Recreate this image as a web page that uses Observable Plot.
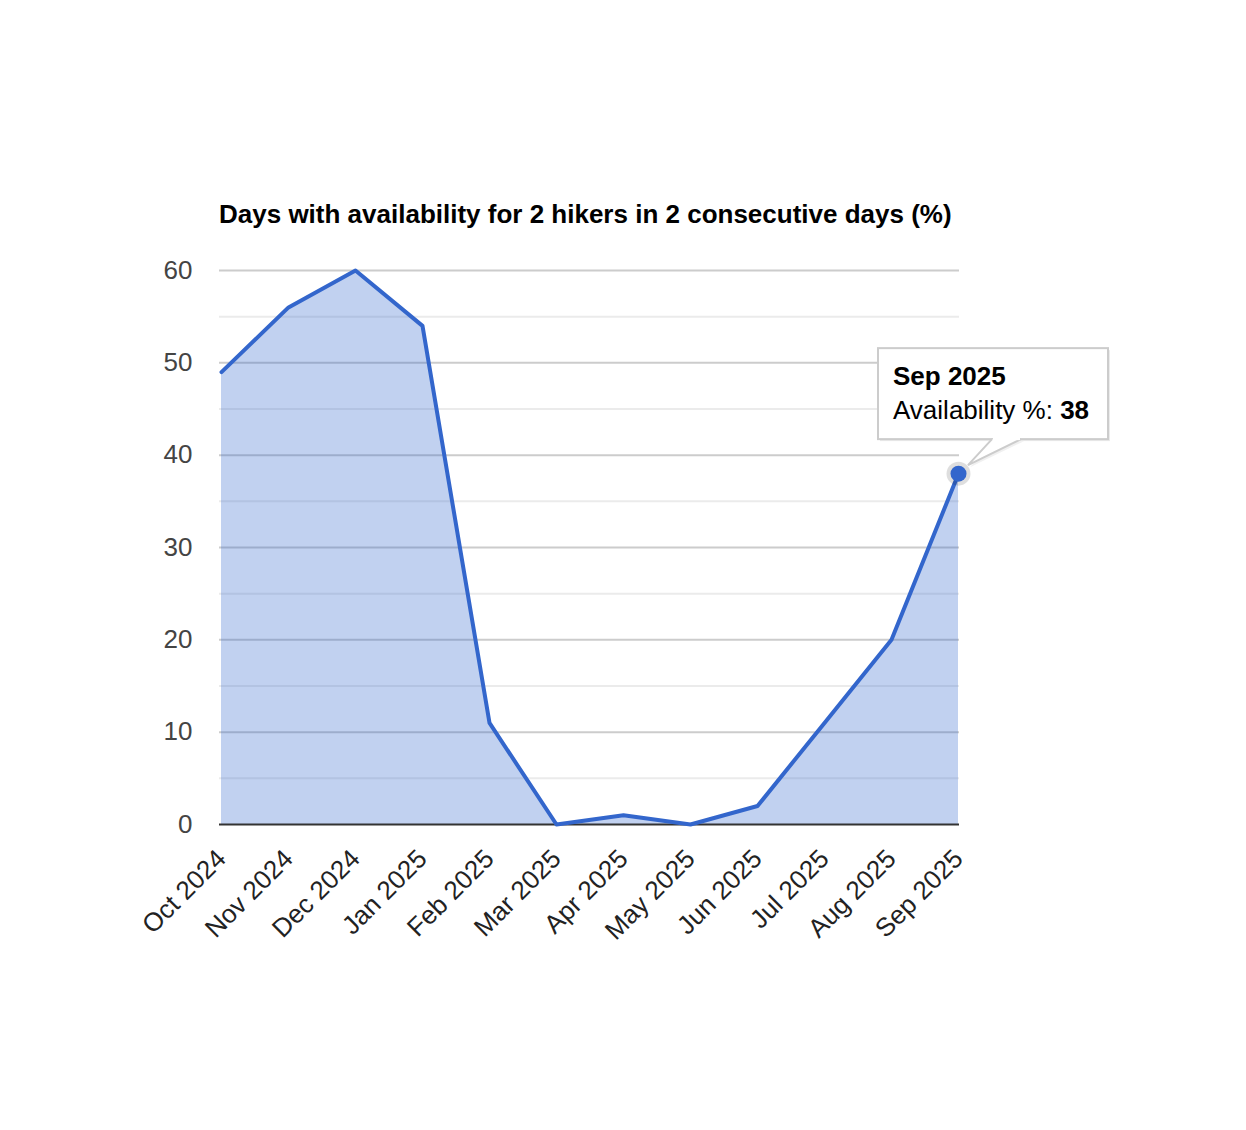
<!DOCTYPE html>
<html><head><meta charset="utf-8">
<script src="https://cdn.jsdelivr.net/npm/d3@7"></script>
<script src="https://cdn.jsdelivr.net/npm/@observablehq/plot@0.6"></script>
<style>
html,body{margin:0;padding:0;background:#fff;}
#wrap{position:relative;width:1246px;height:1130px;font-family:"Liberation Sans",Arial,Helvetica,sans-serif;}
#title{position:absolute;left:219px;top:201px;font-size:26px;line-height:26px;font-weight:bold;color:#000;white-space:nowrap;}
#chart{position:absolute;left:0;top:0;}
</style></head><body>
<div id="wrap"><div id="chart"></div><div id="title">Days with availability for 2 hikers in 2 consecutive days (%)</div></div>
<script>
const months = ["Oct 2024","Nov 2024","Dec 2024","Jan 2025","Feb 2025","Mar 2025","Apr 2025","May 2025","Jun 2025","Jul 2025","Aug 2025","Sep 2025"];
const availability = [49,56,60,54,11,0,1,0,2,11,20,38];
const majorTicks = [0,10,20,30,40,50,60];
const minorTicks = [5,15,25,35,45,55];
const tooltipMonth = "Sep 2025";
const tooltipLabel = "Availability %: ";

const font = '"Liberation Sans",Arial,Helvetica,sans-serif';
const data = months.map((m,i)=>({month:m, value:availability[i]}));
const highlight = data.filter(d=>d.month===tooltipMonth);

const plot = Plot.plot({
  width:1246, height:1130,
  marginTop:270, marginBottom:306, marginLeft:219, marginRight:287,
  style:{fontFamily:font, fontSize:"26px", background:"#fff", overflow:"visible"},
  x:{type:"point", domain:months, padding:0},
  y:{domain:[0,60]},
  marks:[
    Plot.ruleY(minorTicks,{stroke:"#ebebeb", strokeWidth:2}),
    Plot.ruleY(majorTicks.filter(t=>t>0),{stroke:"#cccccc", strokeWidth:2}),
    Plot.areaY(data,{x:"month", y:"value", fill:"#3366cc", fillOpacity:0.3}),
    Plot.ruleY([0],{stroke:"#333333", strokeWidth:2}),
    Plot.lineY(data,{x:"month", y:"value", stroke:"#3366cc", strokeWidth:4, strokeLinejoin:"round"}),
    Plot.axisY({ticks:majorTicks, tickSize:0, tickPadding:27, label:null, color:"#444444", fontSize:26}),
    Plot.axisX({tickSize:0, tickRotate:-45, tickPadding:30, label:null, color:"#222222", fontSize:26}),
    Plot.dot(highlight,{x:"month", y:"value", r:12, fill:"#000", fillOpacity:0.13}),
    Plot.dot(highlight,{x:"month", y:"value", r:8, fill:"#3366cc"})
  ]
});
document.getElementById("chart").appendChild(plot);

// tooltip anchored to the highlighted data point via the plot's scales
const sx = plot.scale("x"), sy = plot.scale("y");
const h = highlight[0];
const px = sx.apply(h.month), py = sy.apply(h.value);
const svg = d3.select(plot);
const g = svg.append("g").attr("font-family", font).attr("font-size", 26).attr("text-anchor", "start");
const bx = px - 80, by = py - 125, bw = 230, bh = 91;
// shadow
g.append("rect").attr("x", bx+2).attr("y", by+2).attr("width", bw).attr("height", bh)
  .attr("fill", "#000").attr("fill-opacity", 0.08);
g.append("path")
  .attr("d", `M${px+36},${by+bh+2} L${px+12},${py-6} L${px+66},${by+bh+2}`)
  .attr("fill", "#000").attr("fill-opacity", 0.06);
g.append("rect").attr("x", bx).attr("y", by).attr("width", bw).attr("height", bh)
  .attr("fill", "#fff").attr("stroke", "#cccccc").attr("stroke-width", 2);
g.append("path")
  .attr("d", `M${px+34},${by+bh} L${px+10},${py-8} L${px+63},${by+bh}`)
  .attr("fill", "#fff").attr("stroke", "#cccccc").attr("stroke-width", 2);
g.append("rect").attr("x", px+35).attr("y", by+bh-2).attr("width", 27).attr("height", 3).attr("fill", "#fff");
g.append("text").attr("x", bx+15).attr("y", by+37).attr("font-weight", "bold").attr("fill", "#000").text(h.month);
const t2 = g.append("text").attr("x", bx+15).attr("y", by+71).attr("fill", "#000");
t2.append("tspan").text(tooltipLabel);
t2.append("tspan").attr("font-weight", "bold").text(h.value);
</script>
</body></html>
